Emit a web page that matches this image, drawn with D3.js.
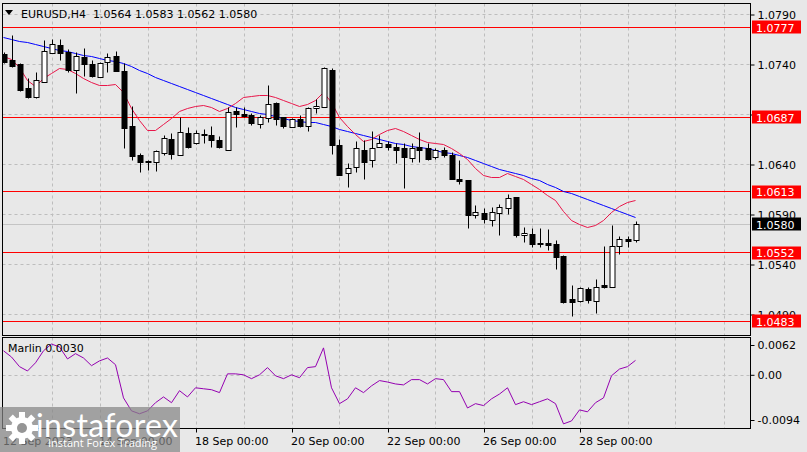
<!DOCTYPE html>
<html><head><meta charset="utf-8">
<script src="https://cdn.jsdelivr.net/npm/d3@7"></script>
<style>
html,body{margin:0;padding:0;background:#e8e8e8;}
svg{display:block;font-family:"DejaVu Sans",Tahoma,sans-serif;}
</style></head><body>
<svg id="c" width="807" height="452"></svg>
<script>
// ---- data ----
const opens  = [1.0750,1.0744,1.0740,1.0716,1.0707,1.0722,1.0752,1.0759,1.0753,1.0735,1.0747,1.0740,1.0727,1.0742,1.0748,1.0734,1.0678,1.0650,1.0643,1.0642,
                1.0652,1.0665,1.0650,1.0672,1.0661,1.0671,1.0670,1.0664,1.0655,1.0694,1.0691,1.0690,1.0680,1.0686,1.0701,1.0687,1.0677,1.0685,1.0678,1.0696,
                1.0697,1.0735,1.0659,1.0632,1.0637,1.0655,1.0644,1.0657,1.0660,1.0657,1.0656,1.0646,1.0657,1.0656,1.0647,1.0655,1.0650,1.0625,1.0624,1.0589,
                1.0592,1.0584,1.0592,1.0596,1.0607,1.0569,1.0571,1.0561,1.0561,1.0560,1.0548,1.0505,1.0503,1.0515,1.0503,1.0519,1.0517,1.0558,1.0565,1.0564];
const highs  = [1.0752,1.0769,1.0741,1.0726,1.0732,1.0764,1.0765,1.0765,1.0755,1.0752,1.0756,1.0744,1.0742,1.0751,1.0753,1.0741,1.0698,1.0651,1.0644,1.0654,
                1.0669,1.0671,1.0687,1.0677,1.0674,1.0675,1.0678,1.0668,1.0697,1.0697,1.0697,1.0691,1.0689,1.0719,1.0702,1.0687,1.0686,1.0689,1.0697,1.0705,
                1.0737,1.0736,1.0665,1.0641,1.0663,1.0664,1.0673,1.0669,1.0663,1.0661,1.0661,1.0661,1.0672,1.0661,1.0656,1.0657,1.0652,1.0644,1.0624,1.0599,
                1.0596,1.0597,1.0600,1.0610,1.0607,1.0577,1.0576,1.0576,1.0575,1.0564,1.0549,1.0519,1.0517,1.0517,1.0525,1.0558,1.0579,1.0568,1.0568,1.0583];
const lows   = [1.0741,1.0737,1.0713,1.0706,1.0706,1.0722,1.0752,1.0744,1.0732,1.0711,1.0728,1.0727,1.0727,1.0732,1.0733,1.0656,1.0644,1.0632,1.0634,1.0633,
                1.0649,1.0645,1.0649,1.0656,1.0660,1.0661,1.0657,1.0656,1.0655,1.0677,1.0687,1.0679,1.0676,1.0682,1.0679,1.0676,1.0677,1.0677,1.0673,1.0691,
                1.0697,1.0650,1.0630,1.0617,1.0632,1.0625,1.0637,1.0657,1.0654,1.0641,1.0616,1.0642,1.0642,1.0644,1.0645,1.0647,1.0625,1.0620,1.0576,1.0586,
                1.0581,1.0578,1.0569,1.0590,1.0567,1.0562,1.0557,1.0557,1.0554,1.0535,1.0501,1.0488,1.0502,1.0501,1.0491,1.0516,1.0517,1.0550,1.0557,1.0562];
const closes = [1.0742,1.0738,1.0715,1.0707,1.0724,1.0754,1.0760,1.0752,1.0735,1.0748,1.0740,1.0728,1.0741,1.0747,1.0734,1.0676,1.0648,1.0642,1.0642,1.0654,
                1.0666,1.0651,1.0673,1.0657,1.0672,1.0669,1.0664,1.0657,1.0693,1.0691,1.0688,1.0681,1.0687,1.0700,1.0685,1.0678,1.0685,1.0678,1.0696,1.0698,
                1.0736,1.0659,1.0630,1.0636,1.0656,1.0642,1.0656,1.0661,1.0657,1.0655,1.0647,1.0656,1.0655,1.0645,1.0655,1.0650,1.0625,1.0623,1.0590,1.0593,
                1.0585,1.0593,1.0597,1.0606,1.0570,1.0572,1.0560,1.0560,1.0559,1.0547,1.0502,1.0502,1.0516,1.0504,1.0517,1.0517,1.0558,1.0565,1.0563,1.0580];
const fastMA = [1.0748,1.0745,1.0737,1.0724,1.0718,1.0726,1.0731,1.0736,1.0735,1.0731,1.0726,1.0722,1.0719,1.0719,1.0720,1.0712,1.0696,1.0684,1.0674,1.0674,
                1.0680,1.0686,1.0693,1.0696,1.0698,1.0699,1.0697,1.0693,1.0696,1.0701,1.0707,1.0708,1.0709,1.0709,1.0707,1.0704,1.0701,1.0698,1.0700,1.0704,
                1.0712,1.0702,1.0687,1.0678,1.0670,1.0663,1.0665,1.0670,1.0674,1.0676,1.0673,1.0669,1.0665,1.0662,1.0661,1.0660,1.0656,1.0651,1.0645,1.0636,
                1.0629,1.0627,1.0627,1.0631,1.0628,1.0625,1.0620,1.0615,1.0609,1.0604,1.0593,1.0584,1.0580,1.0577,1.0579,1.0584,1.0592,1.0598,1.0602,1.0604];
const slowMA = [1.0767,1.0765,1.0763,1.0762,1.0760,1.0758,1.0756,1.0754,1.0753,1.0751,1.0749,1.0748,1.0746,1.0744,1.0743,1.0741,1.0738,1.0734,1.0731,1.0727,
                1.0724,1.0721,1.0718,1.0715,1.0712,1.0709,1.0706,1.0703,1.0700,1.0697,1.0695,1.0693,1.0691,1.0690,1.0688,1.0686,1.0684,1.0683,1.0682,1.0682,
                1.0680,1.0678,1.0675,1.0673,1.0671,1.0669,1.0667,1.0665,1.0663,1.0661,1.0660,1.0658,1.0657,1.0656,1.0654,1.0652,1.0651,1.0649,1.0647,1.0644,
                1.0641,1.0638,1.0635,1.0633,1.0631,1.0629,1.0626,1.0624,1.0620,1.0617,1.0613,1.0611,1.0608,1.0605,1.0602,1.0599,1.0596,1.0593,1.0590,1.0587];
const marlin = [0.0050,0.0037,0.0017,0.0008,0.0025,0.0050,0.0064,0.0058,0.0033,0.0044,0.0035,0.0019,0.0029,0.0035,0.0021,-0.0048,-0.0075,-0.0081,-0.0075,-0.0058,
                -0.0046,-0.0058,-0.0033,-0.0046,-0.0027,-0.0029,-0.0031,-0.0037,0.0002,0.0002,0.0000,-0.0008,0.0000,0.0015,-0.0002,-0.0008,0.0000,-0.0006,0.0015,0.0017,
                0.0056,-0.0027,-0.0060,-0.0050,-0.0027,-0.0037,-0.0023,-0.0012,-0.0015,-0.0019,-0.0021,-0.0010,-0.0010,-0.0019,-0.0008,-0.0010,-0.0035,-0.0035,-0.0069,-0.0060,
                -0.0064,-0.0050,-0.0040,-0.0027,-0.0062,-0.0056,-0.0062,-0.0056,-0.0050,-0.0060,-0.0102,-0.0096,-0.0073,-0.0077,-0.0058,-0.0048,-0.0002,0.0012,0.0017,0.0030];
const priceTicks = [1.0790,1.0740,1.0690,1.0640,1.0590,1.0540,1.0490];
const levels = [1.0777,1.0687,1.0613,1.0552,1.0483];
const bidPrice = 1.0580;
const indTicks = [0.0062,0.0,-0.0094];
const indTickLabels = ["0.0062","0.00","-0.0094"];
const timeTickIdx = [0,12,24,36,48,60,72];
const timeTickLabels = ["12 Sep 2023","14 Sep 00:00","18 Sep 00:00","20 Sep 00:00","22 Sep 00:00","26 Sep 00:00","28 Sep 00:00"];
const titleText = "EURUSD,H4  1.0564 1.0583 1.0562 1.0580";
const indName = "Marlin 0.0030";

// ---- layout ----
const svg = d3.select("#c");
const L = 2.5, R = 750.5, T = 3.5, MB = 335.5, IT = 337.5, IB = 428.5;
const x = d3.scaleLinear().domain([0, 79]).range([3.5, 635.5]);
const y = d3.scaleLinear().domain([1.0790, 1.0490]).range([14.5, 314.5]);
const yi = d3.scaleLinear().domain([0.0062, -0.0094]).range([345, 420]);
const FONT = 11;

svg.append("rect").attr("width",807).attr("height",452).attr("fill","#e8e8e8");

const defs = svg.append("defs");
defs.append("clipPath").attr("id","cm").append("rect").attr("x",L).attr("y",T).attr("width",R-L).attr("height",MB-T);
defs.append("clipPath").attr("id","ci").append("rect").attr("x",L).attr("y",IT).attr("width",R-L).attr("height",IB-IT);

const gridCol = "#bdbdbd";
// vertical grid (daily)
const vIdx = d3.range(6, 91, 6);
[[T,MB],[IT,IB]].forEach(([a,b]) => {
  svg.append("g").selectAll("line").data(vIdx).join("line")
    .attr("x1", d => Math.round(x(d)) + 0.5).attr("x2", d => Math.round(x(d)) + 0.5)
    .attr("y1", a).attr("y2", b)
    .attr("stroke", gridCol).attr("stroke-dasharray", "3,3");
});
// horizontal grid
svg.append("g").selectAll("line").data(priceTicks).join("line")
  .attr("x1", L).attr("x2", R).attr("y1", d => y(d)).attr("y2", d => y(d))
  .attr("stroke", gridCol).attr("stroke-dasharray", "3,3");
svg.append("line").attr("x1", L).attr("x2", R).attr("y1", Math.round(yi(0))+0.5).attr("y2", Math.round(yi(0))+0.5)
  .attr("stroke", gridCol).attr("stroke-dasharray", "3,3");

const main = svg.append("g").attr("clip-path","url(#cm)");
// bid line
main.append("line").attr("x1",L).attr("x2",R).attr("y1",y(bidPrice)).attr("y2",y(bidPrice)).attr("stroke","#c4c4c4");
// level lines
main.selectAll("line.lv").data(levels).join("line").attr("class","lv")
  .attr("x1",L).attr("x2",R).attr("y1",d=>y(d)).attr("y2",d=>y(d)).attr("stroke","#ff0000").attr("stroke-width",1);

// MAs
const idx = d3.range(80);
main.append("path").datum(idx).attr("fill","none").attr("stroke","#0000ff").attr("stroke-width",1)
  .attr("d", d3.line().x(i=>x(i)).y(i=>y(slowMA[i])));
main.append("path").datum(idx).attr("fill","none").attr("stroke","#e8174a").attr("stroke-width",1)
  .attr("d", d3.line().x(i=>x(i)).y(i=>y(fastMA[i])));

// candles
const cg = main.append("g");
idx.forEach(i => {
  const cx = Math.round(x(i)) + 0.5;
  cg.append("line").attr("x1",cx).attr("x2",cx).attr("y1",y(highs[i])).attr("y2",y(lows[i])).attr("stroke","#000");
  const up = closes[i] >= opens[i];
  const top = Math.round(y(Math.max(opens[i],closes[i])));
  const bot = Math.round(y(Math.min(opens[i],closes[i])));
  cg.append("rect").attr("x",cx-2.5).attr("y",top+0.5).attr("width",5).attr("height",Math.max(1,bot-top))
    .attr("fill", up ? "#fff" : "#000").attr("stroke","#000").attr("stroke-width",1);
});

// indicator
svg.append("g").attr("clip-path","url(#ci)").append("path").datum(idx).attr("fill","none")
  .attr("stroke","#9400b0").attr("stroke-width",1)
  .attr("d", d3.line().x(i=>x(i)).y(i=>yi(marlin[i])));

// panel frames
svg.append("rect").attr("x",L).attr("y",T).attr("width",R-L).attr("height",MB-T).attr("fill","none").attr("stroke","#000");
svg.append("rect").attr("x",L).attr("y",IT).attr("width",R-L).attr("height",IB-IT).attr("fill","none").attr("stroke","#000");

// right price axis
const ay = svg.append("g").attr("transform",`translate(${R},0)`)
  .call(d3.axisRight(y).tickValues(priceTicks).tickSize(4).tickPadding(3).tickFormat(d3.format(".4f")));
ay.select(".domain").remove();
ay.selectAll("text").attr("font-size",FONT).attr("font-family","DejaVu Sans").attr("fill","#000");
ay.selectAll("line").attr("stroke","#000");

const ai = svg.append("g").attr("transform",`translate(${R},0)`)
  .call(d3.axisRight(yi).tickValues(indTicks).tickSize(4).tickPadding(3).tickFormat((d,k)=>indTickLabels[k]));
ai.select(".domain").remove();
ai.selectAll("text").attr("font-size",FONT).attr("font-family","DejaVu Sans").attr("fill","#000");
ai.selectAll("line").attr("stroke","#000");

// price labels
const tags = levels.map(v => ({v, bg:"#ff0000"})).concat([{v:bidPrice, bg:"#000"}]);
const tg = svg.append("g");
tags.forEach(t => {
  const cy = y(t.v);
  tg.append("rect").attr("x",752).attr("y",Math.round(cy)-6.5).attr("width",49).attr("height",13).attr("fill",t.bg);
  tg.append("text").attr("x",756).attr("y",cy+4).attr("font-size",FONT).attr("fill","#fff").text(d3.format(".4f")(t.v));
});

// bottom time axis
const ax = svg.append("g").attr("transform",`translate(0,${IB})`)
  .call(d3.axisBottom(x).tickValues(timeTickIdx).tickSize(4).tickFormat((d,k)=>timeTickLabels[k]));
ax.select(".domain").remove();
ax.selectAll("line").attr("stroke","#000").attr("transform","translate(0.5,0)");
ax.selectAll("text").attr("text-anchor","start").attr("dx",-1).attr("y",6).attr("dy","0.95em")
  .attr("font-size",FONT).attr("font-family","DejaVu Sans").attr("fill","#000");
ax.selectAll(".tick").filter((d,k)=>k===0).select("line").remove();

// title
svg.append("path").attr("d","M5,10 L13,10 L9,15 Z").attr("fill","#000");
svg.append("text").attr("x",21).attr("y",18).attr("font-size",FONT).attr("fill","#000").attr("xml:space","preserve").style("white-space","pre").text(titleText);
svg.append("text").attr("x",8).attr("y",352).attr("font-size",FONT).attr("fill","#000").text(indName);

// watermark
const wm = svg.append("g");
wm.append("rect").attr("x",0).attr("y",407).attr("width",180).attr("height",45).attr("fill","#858585").attr("opacity",0.72);
const gear = wm.append("g").attr("transform","translate(22,428)");
d3.range(8).forEach(k => {
  gear.append("rect").attr("x",-3).attr("y",-16).attr("width",6).attr("height",8).attr("fill","#fff")
    .attr("transform",`rotate(${k*45})`);
});
gear.append("circle").attr("r",11).attr("fill","#fff");
gear.append("circle").attr("r",5).attr("fill","#959595");
wm.append("text").attr("x",36).attr("y",437).attr("font-size",32).attr("textLength",142).attr("font-family","Lato, 'Open Sans', sans-serif").attr("fill","#fff").text("instaforex");
wm.append("text").attr("x",48).attr("y",447).attr("font-size",11).attr("font-family","'Open Sans', sans-serif").attr("fill","#fff").text("Instant Forex Trading");
</script>
</body></html>
